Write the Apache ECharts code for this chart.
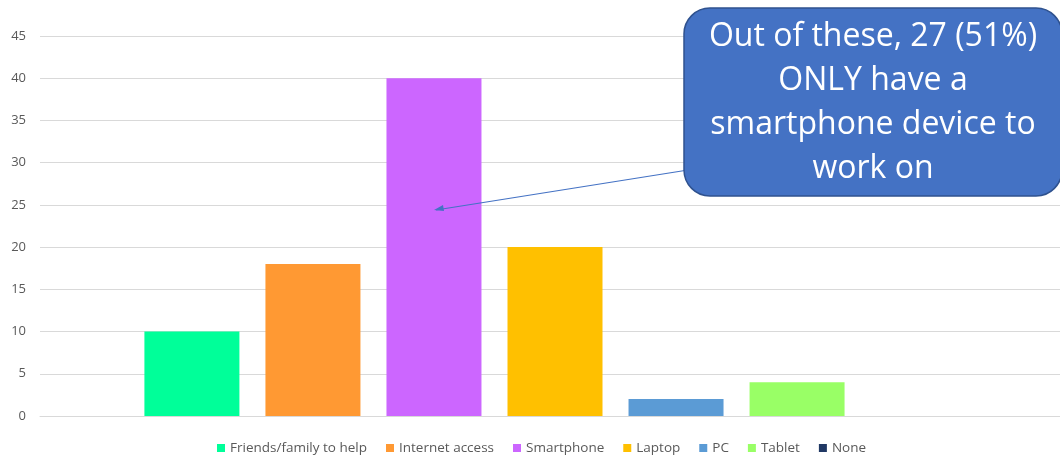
<!DOCTYPE html>
<html><head><meta charset="utf-8">
<script src="https://cdn.jsdelivr.net/npm/echarts@6/dist/echarts.min.js"></script>
<style>html,body{margin:0;padding:0;background:#fff}#c{width:1060px;height:457px}</style>
</head><body><div id="c"></div>
<script>
const seriesNames = ['Friends/family to help','Internet access','Smartphone','Laptop','PC','Tablet','None'];
const seriesValues = [10, 18, 40, 20, 2, 4, 0];
const seriesColors = ['#00FF99','#FF9933','#CC66FF','#FFC000','#5B9BD5','#99FF66','#203864'];
const yTicks = {min:0, max:45, interval:5};
const calloutText = 'Out of these, 27 (51%)\nONLY have a\nsmartphone device to\nwork on';

const chart = echarts.init(document.getElementById('c'));
chart.setOption({
  animation:false,
  textStyle:{fontFamily:'Open Sans'},
  grid:[{left:40, top:36, right:0, height:380, containLabel:false},
        {left:50, top:36, right:0, height:380, containLabel:false}],
  legend:{bottom:-3, left:212, itemWidth:8, itemHeight:8, itemGap:19,
    icon:'rect', textStyle:{color:'#595959', fontSize:13.5, fontFamily:'Open Sans'},
    data:seriesNames},
  xAxis:[{gridIndex:0, type:'category', data:[''], axisLine:{lineStyle:{color:'#D9D9D9'}}, axisTick:{show:false}, axisLabel:{show:false}},
         {gridIndex:1, type:'category', data:[''], show:false}],
  yAxis:[{gridIndex:0, type:'value', min:yTicks.min, max:yTicks.max, interval:yTicks.interval,
    axisLabel:{color:'#595959', fontSize:13, margin:14},
    splitLine:{lineStyle:{color:'#D9D9D9'}}, axisLine:{show:false}, axisTick:{show:false}},
    {gridIndex:1, type:'value', min:yTicks.min, max:yTicks.max, interval:yTicks.interval, show:false, splitLine:{show:false}}],
  series: seriesNames.map((n,i)=>({name:n, type:'bar', xAxisIndex:1, yAxisIndex:1, data:[seriesValues[i]], barWidth:95, barGap:'27.4%',
    itemStyle:{color:seriesColors[i]}})),
  graphic:[
    {type:'line', shape:{x1:688, y1:170, x2:436, y2:210}, style:{stroke:'#4472C4', lineWidth:1.2}, z:10},
    {type:'polygon', shape:{points:[[434,210],[443,205],[444,211]]}, style:{fill:'#4472C4'}, z:10},
    {type:'rect', shape:{x:684, y:8, width:378, height:188, r:26}, style:{fill:'#4472C4', stroke:'#2F528F', lineWidth:1.5}, z:11},
    {type:'text', x:873, y:103, style:{text:calloutText, fill:'#fff', font:'32px "Open Sans"', align:'center', verticalAlign:'middle', lineHeight:44}, z:12}
  ]
});
</script></body></html>
